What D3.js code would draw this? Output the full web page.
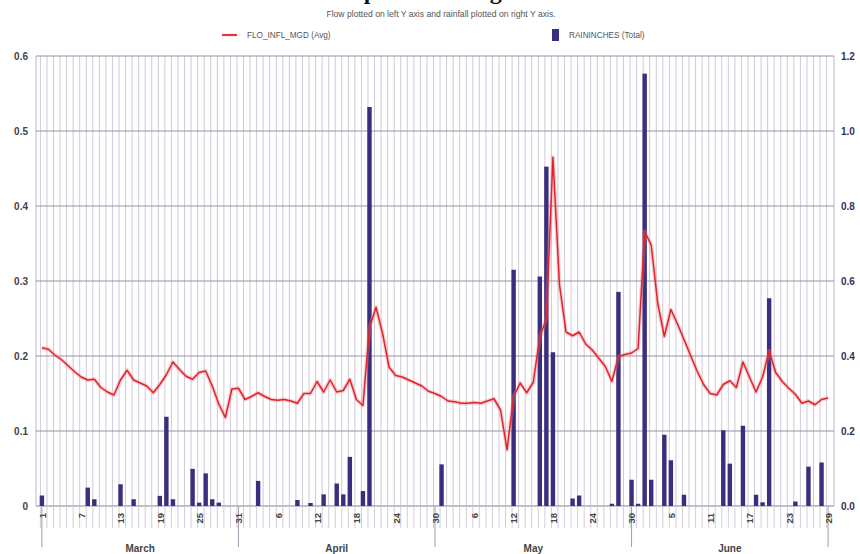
<!DOCTYPE html>
<html>
<head>
<meta charset="utf-8">
<script src="https://cdn.jsdelivr.net/npm/d3@7/dist/d3.min.js"></script>
<style>
  html, body { margin: 0; padding: 0; background: #fff; }
  svg { display: block; font-family: "Liberation Sans", Arial, sans-serif; }
</style>
</head>
<body>
<svg id="chart" width="860" height="554"></svg>
<script>
// ---- DATA ----
const titleText = "Flow Response During Rainfall";
const subtitleText = "Flow plotted on left Y axis and rainfall plotted on right Y axis.";
const flowLabel = "FLO_INFL_MGD (Avg)";
const rainLabel = "RAININCHES (Total)";

// day index 0 = March 1 ... 120 = June 29
const flowMGD = [
  0.211,0.209,0.201,0.195,0.187,0.179,0.172,0.168,0.169,0.158,
  0.152,0.148,0.168,0.181,0.168,0.164,0.160,0.151,0.162,0.175,
  0.192,0.182,0.173,0.169,0.178,0.180,0.160,0.136,0.118,0.156,
  0.157,0.142,0.146,0.151,0.146,0.142,0.141,0.142,0.140,0.137,
  0.150,0.150,0.166,0.152,0.168,0.152,0.154,0.169,0.142,0.134,
  0.238,0.265,0.230,0.185,0.174,0.172,0.168,0.164,0.160,0.153,
  0.150,0.146,0.140,0.139,0.137,0.137,0.138,0.137,0.140,0.143,
  0.128,0.075,0.146,0.164,0.151,0.165,0.225,0.250,0.465,0.295,
  0.232,0.227,0.232,0.216,0.208,0.197,0.186,0.166,0.199,0.202,
  0.204,0.210,0.366,0.348,0.270,0.226,0.262,0.243,0.222,0.201,
  0.180,0.162,0.150,0.148,0.162,0.167,0.158,0.192,0.172,0.152,
  0.172,0.207,0.178,0.166,0.157,0.149,0.137,0.140,0.135,0.142,
  0.144
];

const rainDay = [0,7,8,12,14,18,19,20,23,24,25,26,27,33,39,41,43,45,46,47,49,50,61,
                 72,76,77,78,81,82,87,88,90,91,92,93,95,96,98,104,105,107,109,110,111,115,117,119];
const rainInches = [0.028,0.049,0.018,0.058,0.018,0.027,0.238,0.018,0.099,0.009,0.087,0.018,0.009,0.067,0.016,0.008,0.031,0.060,0.031,0.131,0.040,1.064,0.111,
                    0.630,0.612,0.905,0.410,0.020,0.028,0.006,0.571,0.070,0.006,1.153,0.070,0.190,0.122,0.030,0.202,0.113,0.214,0.030,0.010,0.554,0.012,0.105,0.116];

const tickDays = [0,6,12,18,24,30,36,42,48,54,60,66,72,78,84,90,96,102,108,114,120];
const tickLabels = ["1","7","13","19","25","31","6","12","18","24","30","6","12","18","24","30","5","11","17","23","29"];
const monthNames = ["March","April","May","June"];
const monthBounds = [0,30,60,90,120];
const leftTicks = [0,0.1,0.2,0.3,0.4,0.5,0.6];
const rightTicks = [0,0.2,0.4,0.6,0.8,1.0,1.2];

// ---- LAYOUT ----
const svg = d3.select("#chart");
const L = 36, R = 834, T = 56, B = 506;
const nDays = flowMGD.length;

const x = d3.scalePoint().domain(d3.range(nDays)).range([L, R]).padding(0.9);
const yL = d3.scaleLinear().domain([0, 0.6]).range([B, T]);
const yR = d3.scaleLinear().domain([0, 1.2]).range([B, T]);

// title (cut off at the top edge, as in the reference)
svg.append("text")
  .attr("x", 430).attr("y", -1)
  .attr("text-anchor", "middle")
  .attr("font-family", "'Liberation Serif', 'Times New Roman', serif")
  .attr("font-weight", "bold").attr("font-size", 24)
  .attr("fill", "#111")
  .text(titleText);

svg.append("text")
  .attr("x", 441).attr("y", 17)
  .attr("text-anchor", "middle")
  .attr("font-size", 8.6).attr("fill", "#555")
  .text(subtitleText);

// legend
const lg = svg.append("g");
lg.append("line").attr("x1", 222).attr("x2", 237).attr("y1", 35).attr("y2", 35)
  .attr("stroke", "#e43a3d").attr("stroke-width", 2.2);
lg.append("text").attr("x", 247).attr("y", 38).attr("font-size", 8.2).attr("fill", "#555").text(flowLabel);
lg.append("rect").attr("x", 552).attr("y", 29).attr("width", 7).attr("height", 12).attr("fill", "#3b2e7e");
lg.append("text").attr("x", 569).attr("y", 38).attr("font-size", 8.2).attr("fill", "#555").text(rainLabel);

// vertical daily gridlines
const grid = svg.append("g");
grid.selectAll("line.v").data(d3.range(nDays)).join("line")
  .attr("class", "v")
  .attr("x1", d => x(d) - 1.5).attr("x2", d => x(d) - 1.5)
  .attr("y1", T).attr("y2", B)
  .attr("stroke", "#cfcad8").attr("stroke-width", 1);
grid.append("line").attr("x1", L).attr("x2", L).attr("y1", T).attr("y2", B).attr("stroke", "#bdb7c9");
grid.append("line").attr("x1", R).attr("x2", R).attr("y1", T).attr("y2", B).attr("stroke", "#bdb7c9");

// horizontal gridlines
grid.selectAll("line.h").data(leftTicks).join("line")
  .attr("class", "h")
  .attr("x1", L).attr("x2", R)
  .attr("y1", d => yL(d)).attr("y2", d => yL(d))
  .attr("stroke", d => d === 0 ? "#8a8298" : "#9a91a8").attr("stroke-width", 1.1);

// daily ticks below the axis
const below = svg.append("g");
below.selectAll("line.t").data(d3.range(nDays)).join("line")
  .attr("class", "t")
  .attr("x1", d => x(d) - 1.5).attr("x2", d => x(d) - 1.5)
  .attr("y1", B).attr("y2", 528)
  .attr("stroke", "#d2cedb").attr("stroke-width", 1);
below.selectAll("line.m").data(monthBounds).join("line")
  .attr("class", "m")
  .attr("x1", d => x(d)).attr("x2", d => x(d))
  .attr("y1", B).attr("y2", 547)
  .attr("stroke", "#a39cae").attr("stroke-width", 1);

// bars (right axis)
const barW = 4.4;
svg.append("g").selectAll("rect").data(rainDay.map((d, i) => ({ day: d, v: rainInches[i] }))).join("rect")
  .attr("x", d => x(d.day) - barW / 2)
  .attr("y", d => yR(d.v))
  .attr("width", barW)
  .attr("height", d => B - yR(d.v))
  .attr("fill", "#3b2e7e");

// flow line (left axis)
const line = d3.line().x((d, i) => x(i)).y(d => yL(d));
svg.append("path").datum(flowMGD)
  .attr("d", line).attr("fill", "none")
  .attr("stroke", "rgba(240,120,130,0.35)").attr("stroke-width", 4).attr("stroke-linejoin", "round");
svg.append("path").datum(flowMGD)
  .attr("d", line).attr("fill", "none")
  .attr("stroke", "#e0242a").attr("stroke-width", 1.5).attr("stroke-linejoin", "round");

// left axis
const axL = svg.append("g").attr("transform", `translate(${L - 5},0)`)
  .call(d3.axisLeft(yL).tickValues(leftTicks).tickSize(0).tickFormat(d => d === 0 ? "0" : d3.format(".1f")(d)));
axL.select(".domain").remove();
axL.selectAll("text").attr("font-size", 10).attr("font-weight", "bold").attr("fill", "#444")
  .attr("font-family", "'Liberation Sans', Arial, sans-serif");

// right axis
const axR = svg.append("g").attr("transform", `translate(${R + 4},0)`)
  .call(d3.axisRight(yR).tickValues(rightTicks).tickSize(0).tickFormat(d3.format(".1f")));
axR.select(".domain").remove();
axR.selectAll("text").attr("font-size", 10).attr("font-weight", "bold").attr("fill", "#35305a")
  .attr("font-family", "'Liberation Sans', Arial, sans-serif");

// bottom day labels (rotated)
const axB = svg.append("g").attr("transform", `translate(0,${B})`)
  .call(d3.axisBottom(x).tickValues(tickDays).tickSize(0).tickFormat((d, i) => tickLabels[i]));
axB.select(".domain").remove();
axB.selectAll("text")
  .attr("transform", "rotate(-90)")
  .attr("text-anchor", "end")
  .attr("x", -7).attr("y", 0).attr("dy", "0.35em")
  .attr("font-size", 9.5).attr("font-weight", "bold").attr("fill", "#444")
  .attr("font-family", "'Liberation Sans', Arial, sans-serif");

// month labels
svg.append("g").selectAll("text").data(monthNames).join("text")
  .attr("x", (d, i) => (x(monthBounds[i]) + x(monthBounds[i + 1])) / 2)
  .attr("y", 552)
  .attr("text-anchor", "middle")
  .attr("font-size", 10).attr("font-weight", "bold").attr("fill", "#444")
  .text(d => d);
</script>
</body>
</html>
